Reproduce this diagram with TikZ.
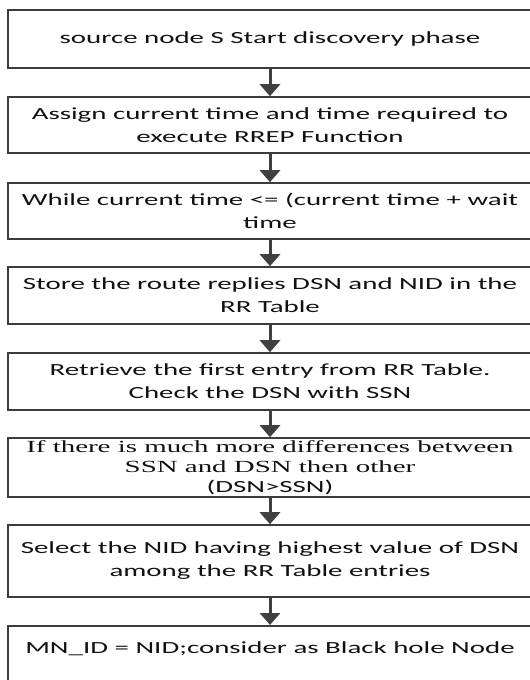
\documentclass[tikz,border=0pt]{standalone}
\usepackage{fontspec}
\setmainfont{Carlito}[FakeStretch=1.7]
\newfontfamily\serifa{Liberation Serif}[FakeStretch=1.7]
\usetikzlibrary{arrows.meta,positioning}
\definecolor{borde}{HTML}{3C3C3C}
\definecolor{flechagris}{HTML}{404040}
\definecolor{tinta}{HTML}{111111}
\tikzset{
  caja/.style={draw=borde,line width=0.8pt,fill=white,minimum width=262pt,inner sep=0pt,align=center,font=\fontsize{8.5}{11.5}\selectfont,text=tinta},
  flecha/.style={draw=flechagris,line width=1.5pt,-{Triangle[width=10pt,length=6pt]}},
}

\begin{document}
\begin{tikzpicture}[x=0.5pt,y=-0.5pt]
  \useasboundingbox (0,0) rectangle (530,680);
  \clip (0,0) rectangle (530,680);
  \node[caja,minimum height=29pt] (inicio) at (270,39) {source node S Start discovery phase};
  \node[caja,minimum height=28pt] (asigna) at (270,125) {Assign current time and time required to\\execute RREP Function};
  \node[caja,minimum height=28pt] (mientras) at (270,211) {While current time <= (current time + wait\\time};
  \node[caja,minimum height=28.5pt] (guarda) at (270,295.5) {Store the route replies DSN and NID in the\\RR Table};
  \node[caja,minimum height=28.5pt] (recupera) at (270,381.5) {Retrieve the first entry from RR Table.\\Check the DSN with SSN};
  \node[caja,minimum height=29.5pt] (compara) at (270,467.5) {{\serifa If there is much more differences between}\\[-1.5pt]{\serifa SSN and DSN then other}\\[-1.5pt](DSN>SSN)};
  \node[caja,minimum height=36pt] (elige) at (270,561) {Select the NID having highest value of DSN\\among the RR Table entries};
  \node[caja,anchor=north,text height=14pt,text depth=40pt] (marca) at (270,625) {MN\_ID = NID;consider as Black hole Node};
  % flechas entre cajas
  \draw[flecha] (inicio) -- (asigna);
  \draw[flecha] (asigna) -- (mientras);
  \draw[flecha] (mientras) -- (guarda);
  \draw[flecha] (guarda) -- (recupera);
  \draw[flecha] (recupera) -- (compara);
  \draw[flecha] (compara) -- (elige);
  \draw[flecha] (elige) -- (marca);
\end{tikzpicture}
\end{document}
